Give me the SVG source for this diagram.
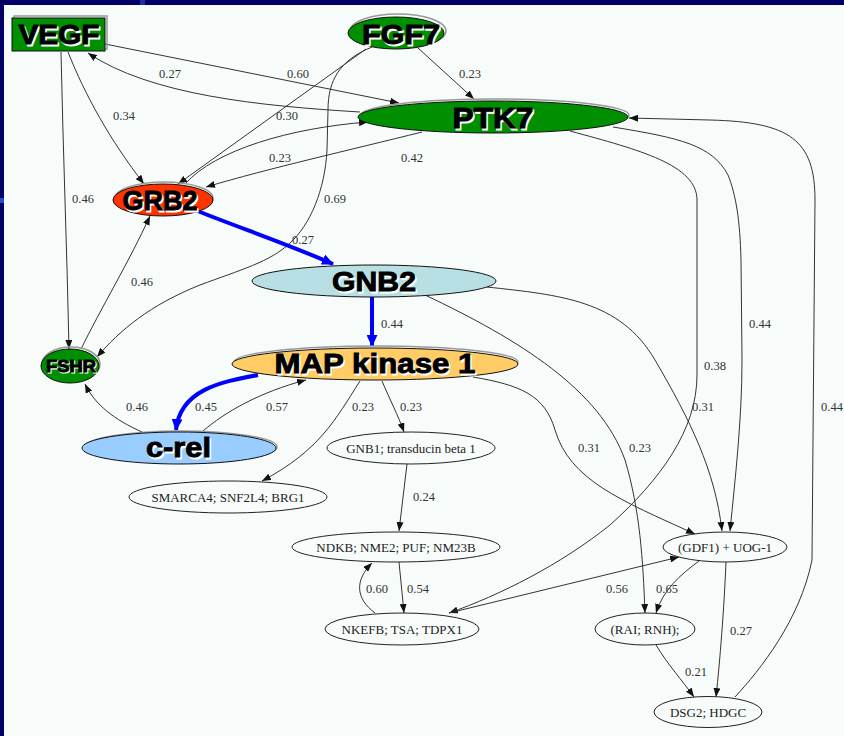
<svg xmlns="http://www.w3.org/2000/svg" width="844" height="736" viewBox="0 0 844 736">
<defs>
  <marker id="arr" markerUnits="userSpaceOnUse" markerWidth="10" markerHeight="7" refX="9" refY="3.5" orient="auto">
    <path d="M0,0 L9,3.5 L0,7 z" fill="#111"/>
  </marker>
  <marker id="arrBlue" markerUnits="userSpaceOnUse" markerWidth="13" markerHeight="11" refX="11" refY="5.5" orient="auto">
    <path d="M0,0 L12,5.5 L0,11 z" fill="#0000ff"/>
  </marker>
  <style>
    .e { fill: none; stroke: #333; stroke-width: 1; marker-end: url(#arr); }
    .eb { fill: none; stroke: #0000ff; stroke-width: 4; marker-end: url(#arrBlue); }
    .el { font-family: "Liberation Serif", serif; font-size: 12.5px; fill: #333; text-anchor: middle; }
    .nl { font-family: "Liberation Serif", serif; font-size: 13px; fill: #222; text-anchor: middle; }
    .shape { stroke: #111; stroke-width: 1; }
    .shadow { fill: none; stroke: #999; stroke-width: 1.5; }
    .wnode { fill: #f7fcfa; stroke: #222; stroke-width: 1; }
    .big { font-family: "Liberation Sans", Arial, sans-serif; font-weight: bold; text-anchor: middle; fill: #000; stroke: #000; stroke-width: 0.9; }
    .bigs { font-family: "Liberation Sans", Arial, sans-serif; font-weight: bold; text-anchor: middle; fill: #fff; stroke: #fff; stroke-width: 1; }
  </style>
</defs>

<!-- slide background and panel -->
<rect x="0" y="0" width="844" height="736" fill="#000066"/>
<rect x="0" y="198" width="4" height="5" fill="#1f4fd0"/>
<rect x="140" y="0" width="5" height="5" fill="#1f2fa0"/>
<rect x="4" y="5" width="840" height="731" fill="#f7fcfa"/>

<g id="connectors">
  <!-- VEGF edges -->
  <path class="e" d="M105,44 L399,103"/>
  <path class="e" d="M360,112 C260,106 150,95 88,53"/>
  <path class="e" d="M68,52 C85,95 110,140 144,184"/>
  <path class="e" d="M61,52 C63,150 67,250 69,349"/>
  <!-- FGF7 edges -->
  <path class="e" d="M418,48 L474,99"/>
  <path class="e" d="M366,49 L178,184"/>
  <path class="e" d="M372,47 C340,60 328,80 328,110 L327,150 C325,190 310,225 290,243 C270,262 240,270 200,285 C150,305 120,330 97,357"/>
  <!-- GRB2 / PTK7 -->
  <path class="e" d="M185,184 C215,150 290,128 368,122"/>
  <path class="e" d="M422,132 C350,150 270,168 206,187"/>
  <path class="e" d="M81,349 C100,310 130,260 150,216"/>
  <!-- PTK7 long edges -->
  <path class="e" d="M570,131 C640,150 697,165 697,200 L697,375 C697,430 660,480 610,525 C560,565 500,595 449,613"/>
  <path class="e" d="M613,127 C680,138 712,145 728,175 C736,195 740,220 741,260 L742,360 C742,420 735,480 730,531"/>
  <path class="e" d="M735,697 C760,670 800,620 812,560 L815,200 C815,140 790,122 710,120 L629,118"/>
  <!-- GNB2 edges -->
  <path class="e" d="M487,287 C560,295 620,300 655,360 C690,420 715,470 722,531"/>
  <path class="e" d="M425,295 C520,340 600,390 625,460 C640,510 643,560 645,613"/>
  <!-- MAP kinase 1 edges -->
  <path class="e" d="M473,377 C520,385 545,395 555,430 C570,480 620,500 695,534"/>
  <path class="e" d="M203,431 C225,412 260,392 306,380"/>
  <path class="e" d="M142,432 C115,420 95,405 85,384"/>
  <path class="e" d="M360,381 C335,420 320,450 262,481"/>
  <path class="e" d="M382,381 C390,400 398,415 404,432"/>
  <!-- lower nodes -->
  <path class="e" d="M407,464 L399,531"/>
  <path class="e" d="M399,562 L404,613"/>
  <path class="e" d="M375,613 C355,598 355,580 372,563"/>
  <path class="e" d="M449,613 L679,557"/>
  <path class="e" d="M699,561 C680,575 663,590 656,613"/>
  <path class="e" d="M726,562 C724,610 720,660 716,697"/>
  <path class="e" d="M656,645 C668,665 682,680 694,697"/>
  <!-- highlighted path -->
  <path class="eb" d="M195,210 C240,228 290,245 333,264"/>
  <path class="eb" d="M372,294 L372,346"/>
  <path class="eb" d="M258,375 C220,382 180,390 176,430"/>

  <!-- edge weights -->
  <text class="el" x="170" y="78">0.27</text>
  <text class="el" x="298" y="78">0.60</text>
  <text class="el" x="470" y="78">0.23</text>
  <text class="el" x="124" y="120">0.34</text>
  <text class="el" x="287" y="120">0.30</text>
  <text class="el" x="280" y="162">0.23</text>
  <text class="el" x="412" y="162">0.42</text>
  <text class="el" x="83" y="203">0.46</text>
  <text class="el" x="335" y="203">0.69</text>
  <text class="el" x="303" y="244">0.27</text>
  <text class="el" x="142" y="286">0.46</text>
  <text class="el" x="392" y="328">0.44</text>
  <text class="el" x="760" y="328">0.44</text>
  <text class="el" x="715" y="370">0.38</text>
  <text class="el" x="137" y="411">0.46</text>
  <text class="el" x="206" y="411">0.45</text>
  <text class="el" x="277" y="411">0.57</text>
  <text class="el" x="363" y="411">0.23</text>
  <text class="el" x="411" y="411">0.23</text>
  <text class="el" x="703" y="411">0.31</text>
  <text class="el" x="832" y="411">0.44</text>
  <text class="el" x="589" y="452">0.31</text>
  <text class="el" x="640" y="452">0.23</text>
  <text class="el" x="424" y="501">0.24</text>
  <text class="el" x="377" y="593">0.60</text>
  <text class="el" x="418" y="593">0.54</text>
  <text class="el" x="617" y="593">0.56</text>
  <text class="el" x="667" y="593">0.65</text>
  <text class="el" x="741" y="635">0.27</text>
  <text class="el" x="696" y="676">0.21</text>
</g>

<g id="VEGF">
  <rect class="shadow" x="14" y="16" width="93" height="33"/>
  <rect class="shape" x="12" y="18" width="93" height="33" fill="#008f00"/>
  <text class="bigs" x="60.5" y="45.5" font-size="27" textLength="81" lengthAdjust="spacingAndGlyphs">VEGF</text>
  <text class="big" x="59" y="44" font-size="27" textLength="81" lengthAdjust="spacingAndGlyphs">VEGF</text>
</g>

<g id="FGF7">
  <ellipse class="shadow" cx="398" cy="31" rx="48" ry="17"/>
  <ellipse class="shape" cx="396" cy="33" rx="48" ry="16" fill="#008f00"/>
  <text class="bigs" x="402.5" y="45.5" font-size="28" textLength="78" lengthAdjust="spacingAndGlyphs">FGF7</text>
  <text class="big" x="401" y="44" font-size="28" textLength="78" lengthAdjust="spacingAndGlyphs">FGF7</text>
</g>

<g id="PTK7">
  <ellipse class="shadow" cx="495" cy="115" rx="134" ry="16"/>
  <ellipse class="shape" cx="493" cy="117" rx="135" ry="16" fill="#008f00"/>
  <text class="bigs" x="494.5" y="129.5" font-size="29" textLength="81" lengthAdjust="spacingAndGlyphs">PTK7</text>
  <text class="big" x="493" y="128" font-size="29" textLength="81" lengthAdjust="spacingAndGlyphs">PTK7</text>
</g>

<g id="GRB2">
  <ellipse class="shadow" cx="164" cy="198" rx="49" ry="16"/>
  <ellipse class="shape" cx="163" cy="200" rx="50" ry="16" fill="#ff3300"/>
  <text class="bigs" x="161.5" y="211.5" font-size="27" textLength="75" lengthAdjust="spacingAndGlyphs">GRB2</text>
  <text class="big" x="160" y="210" font-size="27" textLength="75" lengthAdjust="spacingAndGlyphs">GRB2</text>
</g>

<g id="GNB2">
  <ellipse class="shape" cx="374" cy="281" rx="122" ry="16" fill="#b8dfe3"/>
  <text class="bigs" x="375.5" y="292.5" font-size="28" textLength="84" lengthAdjust="spacingAndGlyphs">GNB2</text>
  <text class="big" x="374" y="291" font-size="28" textLength="84" lengthAdjust="spacingAndGlyphs">GNB2</text>
</g>

<g id="MAPK1">
  <ellipse class="shadow" cx="376" cy="362" rx="142" ry="16"/>
  <ellipse class="shape" cx="375" cy="364" rx="143" ry="16" fill="#ffcc66"/>
  <text class="bigs" x="376.5" y="374.5" font-size="28" textLength="201" lengthAdjust="spacingAndGlyphs">MAP kinase 1</text>
  <text class="big" x="375" y="373" font-size="28" textLength="201" lengthAdjust="spacingAndGlyphs">MAP kinase 1</text>
</g>

<g id="FSHR">
  <ellipse class="shadow" cx="71" cy="364" rx="29" ry="17"/>
  <ellipse class="shape" cx="70" cy="366" rx="29" ry="17" fill="#008f00"/>
  <text class="bigs" x="72" y="373" font-size="17" textLength="50" lengthAdjust="spacingAndGlyphs">FSHR</text>
  <text class="big" x="71" y="372" font-size="17" textLength="50" lengthAdjust="spacingAndGlyphs">FSHR</text>
</g>

<g id="c-rel">
  <ellipse class="shadow" cx="181" cy="447" rx="96" ry="16"/>
  <ellipse class="shape" cx="179" cy="448" rx="97" ry="16" fill="#99ccff"/>
  <text class="bigs" x="180" y="458.5" font-size="28" textLength="65" lengthAdjust="spacingAndGlyphs">c-rel</text>
  <text class="big" x="178.5" y="457" font-size="28" textLength="65" lengthAdjust="spacingAndGlyphs">c-rel</text>
</g>

<g id="GNB1">
  <ellipse class="wnode" cx="411" cy="448" rx="84" ry="16"/>
  <text class="nl" x="411" y="452.5">GNB1; transducin beta 1</text>
</g>

<g id="SMARCA4">
  <ellipse class="wnode" cx="228" cy="497" rx="99" ry="16"/>
  <text class="nl" x="228" y="501.5">SMARCA4; SNF2L4; BRG1</text>
</g>

<g id="NDKB">
  <ellipse class="wnode" cx="396" cy="547" rx="104" ry="15"/>
  <text class="nl" x="396" y="551.5">NDKB; NME2; PUF; NM23B</text>
</g>

<g id="NKEFB">
  <ellipse class="wnode" cx="402" cy="629" rx="77" ry="16"/>
  <text class="nl" x="402" y="633.5">NKEFB; TSA; TDPX1</text>
</g>

<g id="GDF1">
  <ellipse class="wnode" cx="725" cy="547" rx="62" ry="15"/>
  <text class="nl" x="725" y="551.5">(GDF1) + UOG-1</text>
</g>

<g id="RAI">
  <ellipse class="wnode" cx="645" cy="629" rx="50" ry="16"/>
  <text class="nl" x="645" y="633.5">(RAI; RNH);</text>
</g>

<g id="DSG2">
  <ellipse class="wnode" cx="708" cy="712" rx="54" ry="15.5"/>
  <text class="nl" x="708" y="716.5">DSG2; HDGC</text>
</g>
</svg>
